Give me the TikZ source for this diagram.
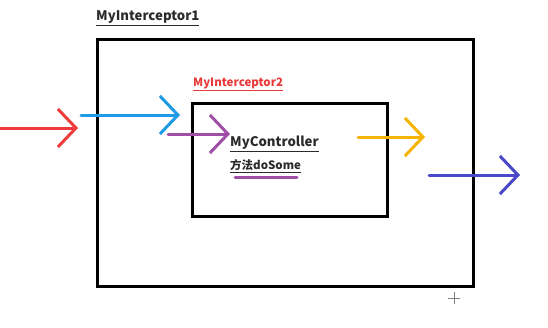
\documentclass[tikz,border=0pt]{standalone}
\usepackage{fontspec}
\setmainfont{Noto Sans CJK SC}
\usetikzlibrary{arrows.meta,positioning}
\definecolor{ArrowRed}{HTML}{EE3B3B}
\definecolor{ArrowBlue}{HTML}{1E9AE6}
\definecolor{ArrowPurple}{HTML}{A04FA6}
\definecolor{ArrowGold}{HTML}{F4B400}
\definecolor{ArrowIndigo}{HTML}{4848C8}
\definecolor{LabelRed}{HTML}{E83A3A}
\definecolor{Ink}{HTML}{2A2A2A}

\tikzset{
  frame/.style={draw=black, line width=3pt, inner sep=0pt},
  caption/.style={font=\bfseries\fontsize{13.2}{15}\selectfont, inner sep=0pt, anchor=west},
  small caption/.style={caption, font=\bfseries\fontsize{11.5}{14}\selectfont},
  pen/.style={line width=3pt, line cap=round, -{Straight Barb[length=18pt, width=38pt, line width=3pt]}},
}

\begin{document}
\begin{tikzpicture}[x=1pt, y=-1pt]
    \useasboundingbox (0,0) rectangle (548,327);
    % outer and inner frames
    \node[frame, minimum width=376pt, minimum height=247pt, anchor=north west] (outer) at (96,38) {};
    \node[frame, minimum width=195pt, minimum height=113pt, anchor=north west] (inner) at (191,102) {};
    \node[caption, Ink] (outerlbl) at (96,18) {\underline{MyInterceptor1}};
    \node[small caption, LabelRed] (innerlbl) at (193,84) {\underline{MyInterceptor2}};
    \node[caption, Ink] (ctrl) at (230,144) {\underline{MyController}};
    \node[small caption, Ink, below=7pt of ctrl.south west, anchor=north west] (method) {\underline{方法doSome}};
    % arrow ends
    \coordinate (r0) at (0,128);    \coordinate (r1) at (78,128);
    \coordinate (b0) at (81,115);   \coordinate (b1) at (180,115);
    \coordinate (p0) at (168,134);  \coordinate (p1) at (230,134);
    \coordinate (y0) at (358,137);  \coordinate (y1) at (425,137);
    \coordinate (v0) at (429,175);  \coordinate (v1) at (520,175);
    \coordinate (m0) at (235,177);  \coordinate (m1) at (297,177);
    \draw[pen, ArrowRed] (r0) -- (r1);
    \draw[pen, ArrowBlue] (b0) -- (b1);
    \draw[pen, ArrowPurple] (p0) -- (p1);
    \draw[pen, ArrowGold] (y0) -- (y1);
    \draw[pen, ArrowIndigo] (v0) -- (v1);
    \draw[ArrowPurple, line width=3pt, line cap=round] (m0) -- (m1);
    % pointer cross
    \coordinate (cur) at (454,298);
    \draw[gray, line width=1pt] ([xshift=-6pt]cur) -- ([xshift=6pt]cur) ([yshift=-6pt]cur) -- ([yshift=6pt]cur);
\end{tikzpicture}
\end{document}
